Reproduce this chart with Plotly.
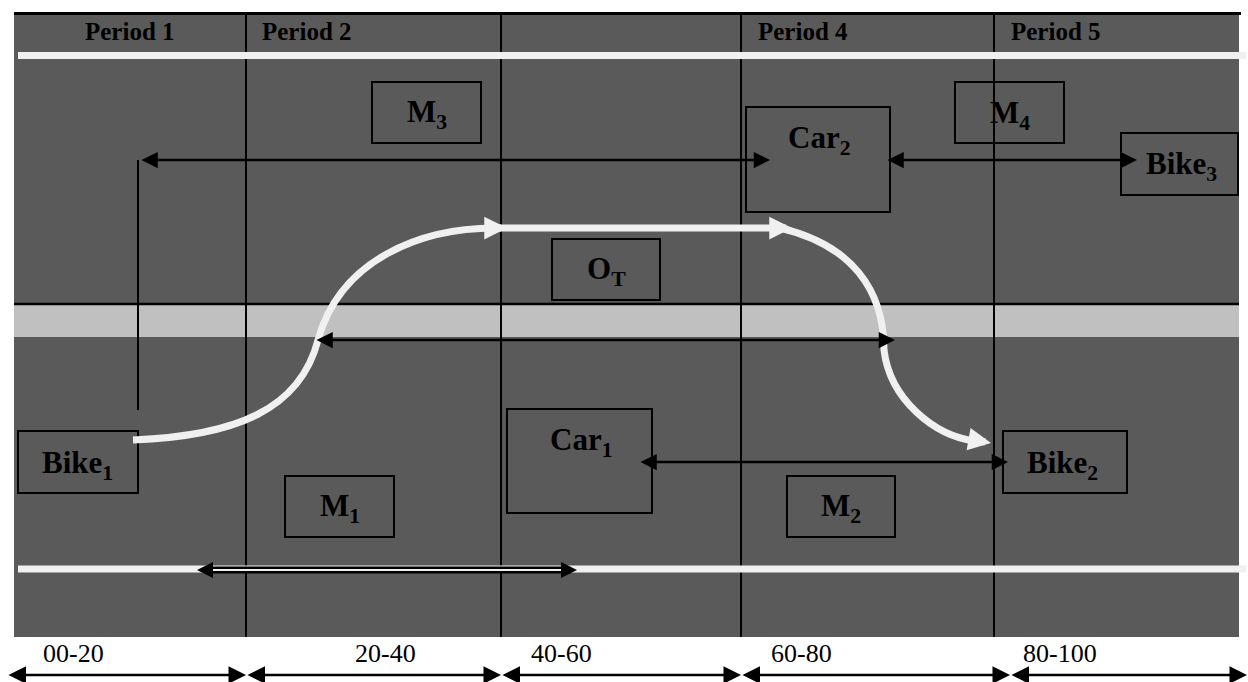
import plotly.graph_objects as go

# ---------------- data ----------------
period_labels = ["Period 1", "Period 2", "", "Period 4", "Period 5"]
time_labels = ["00-20", "20-40", "40-60", "60-80", "80-100"]
node_labels = ["Bike<sub>1</sub>", "M<sub>1</sub>", "Car<sub>1</sub>", "M<sub>2</sub>",
               "Bike<sub>2</sub>", "M<sub>3</sub>", "O<sub>T</sub>", "Car<sub>2</sub>",
               "M<sub>4</sub>", "Bike<sub>3</sub>"]

# ---------------- geometry (pixel canvas 1248 x 682) ----------------
W, H = 1248, 682
road = dict(x0=14, x1=1239, y0=14, y1=637)
band = dict(y0=305, y1=337)
col_x = [246, 501, 741, 994]
period_pos = [(130, "center"), (260, "left"), (None, None), (756, "left"), (1009, "left")]
time_x = [73, 385, 561, 801, 1060]
seg_bounds = [7, 246, 501, 741, 1010, 1247]
# boxes: x0, x1, y0, y1, text x, text y
boxes = [
    (18, 138, 431, 493, 77, 465),
    (285, 394, 476, 537, 340, 508),
    (507, 652, 409, 513, 581, 442),
    (787, 895, 476, 537, 841, 508),
    (1003, 1127, 431, 493, 1062, 465),
    (372, 481, 82, 143, 427, 114),
    (552, 660, 239, 300, 606, 271),
    (746, 890, 107, 212, 819, 140),
    (955, 1064, 82, 143, 1010, 115),
    (1121, 1238, 133, 195, 1181, 166),
]

BG = "#5a5a5a"
WHITE = "#f0f0f0"
SERIF = "Liberation Serif, Times New Roman, serif"

fig = go.Figure()
shapes = []
ann = []

# road background
shapes.append(dict(type="rect", x0=road["x0"], x1=road["x1"], y0=road["y0"], y1=road["y1"],
                   fillcolor=BG, line=dict(width=0), layer="below"))
shapes.append(dict(type="rect", x0=road["x0"], x1=road["x1"], y0=band["y0"], y1=band["y1"],
                   fillcolor="#c0c0c0", line=dict(width=0), layer="below"))
# top border and median line
shapes.append(dict(type="line", x0=14, x1=1241, y0=13.5, y1=13.5, line=dict(color="black", width=3)))
shapes.append(dict(type="line", x0=14, x1=1239, y0=304, y1=304, line=dict(color="black", width=2.5)))
# period column separators
for cx in col_x:
    shapes.append(dict(type="line", x0=cx, x1=cx, y0=14, y1=637, line=dict(color="black", width=2)))
# white lane lines
for wy in (55.5, 569):
    shapes.append(dict(type="line", x0=18, x1=1246, y0=wy, y1=wy, line=dict(color=WHITE, width=7)))
# boxes
for (x0, x1, y0, y1, tx, ty), lab in zip(boxes, node_labels):
    shapes.append(dict(type="rect", x0=x0, x1=x1, y0=y0, y1=y1, line=dict(color="black", width=2)))
    ann.append(dict(x=tx, y=ty, text="<b>" + lab + "</b>", showarrow=False,
                    xanchor="center", yanchor="middle",
                    font=dict(family=SERIF, size=31, color="black")))
# vertical connector from Bike1
shapes.append(dict(type="line", x0=138, x1=138, y0=160, y1=410, line=dict(color="black", width=2)))
# double line (hollow arrow) on lower lane line
shapes.append(dict(type="line", x0=205, x1=570, y0=570, y1=570, line=dict(color="black", width=7)))
shapes.append(dict(type="line", x0=205, x1=570, y0=570, y1=570, line=dict(color=WHITE, width=2)))

# white trajectory curve
path = ("M133,440 C235,436 300,410 318,340 C340,260 420,228 495,228 L780,228 "
        "C852,245 884,290 884,350 C890,400 935,436 975,441")
shapes.append(dict(type="path", path=path, line=dict(color=WHITE, width=7)))


def arrow(x, y, ax, ay, color="black", width=2, size=1.5, both=False):
    ann.append(dict(x=x, y=y, ax=ax, ay=ay, xref="x", yref="y", axref="x", ayref="y",
                    text="", showarrow=True, arrowhead=2, startarrowhead=2,
                    arrowside="end+start" if both else "end",
                    arrowsize=size, startarrowsize=size, arrowwidth=width,
                    arrowcolor=color, standoff=0, startstandoff=0))


# black arrows
arrow(770, 160, 140, 160, width=2.5, size=1.3, both=True)
arrow(1137, 160, 886, 160, width=2.5, size=1.3, both=True)
arrow(1008, 462, 639, 462, width=2.5, size=1.3, both=True)
arrow(895, 340, 315, 340, width=2.5, size=1.3, both=True)
# hollow arrow heads
arrow(197, 570, 214, 570, size=1.6)
arrow(577, 570, 560, 570, size=1.6)
# white curve arrow heads
arrow(507, 228, 485, 228, color=WHITE, width=7, size=0.65)
arrow(792, 228, 770, 228, color=WHITE, width=7, size=0.65)
arrow(991, 443, 968, 439, color=WHITE, width=7, size=0.65)

# bottom time axis arrows
for a, b in zip(seg_bounds[:-1], seg_bounds[1:]):
    arrow(b, 675, a, 675, width=2.5, size=1.4, both=True)

# period headers
for lab, (px, anchor) in zip(period_labels, period_pos):
    if not lab:
        continue
    ann.append(dict(x=px, y=31, text="<b>" + lab + "</b>", showarrow=False,
                    xanchor=anchor, yanchor="middle",
                    font=dict(family=SERIF, size=25, color="black")))
# time labels
for lab, tx in zip(time_labels, time_x):
    ann.append(dict(x=tx, y=653, text=lab, showarrow=False, xanchor="center", yanchor="middle",
                    font=dict(family=SERIF, size=26, color="black")))

fig.update_layout(
    width=W, height=H, margin=dict(l=0, r=0, t=0, b=0),
    paper_bgcolor="white", plot_bgcolor="white",
    xaxis=dict(range=[0, W], visible=False, fixedrange=True),
    yaxis=dict(range=[H, 0], visible=False, fixedrange=True),
    shapes=shapes, annotations=ann, showlegend=False,
)

fig.write_html("out.html", config={"displayModeBar": False},
               post_script="document.body.style.margin='0';document.body.style.overflow='hidden';")
